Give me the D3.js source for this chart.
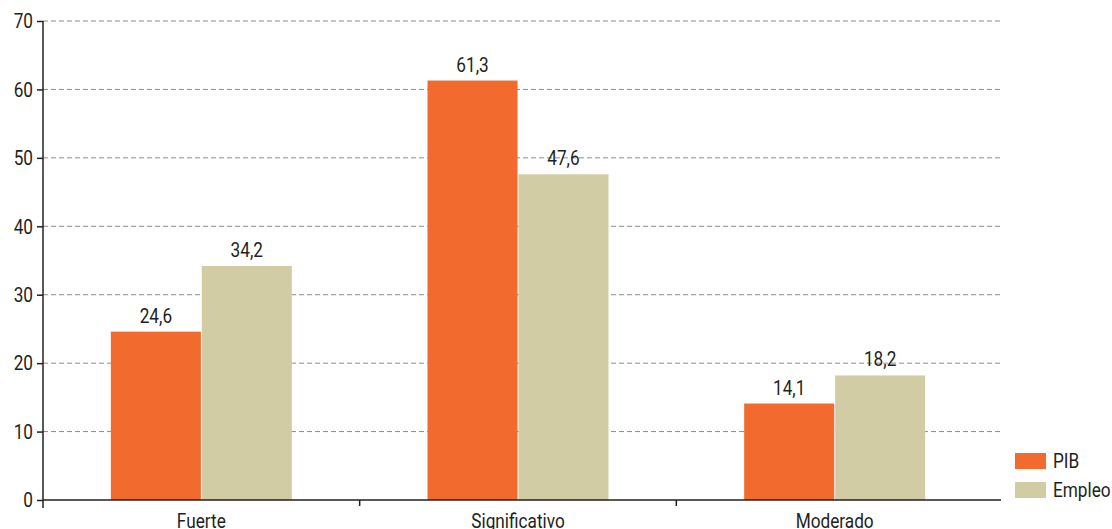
<!DOCTYPE html>
<html>
<head>
<meta charset="utf-8">
<script src="https://cdn.jsdelivr.net/npm/d3@7"></script>
<style>
  body { margin: 0; background: #fff; }
  text { font-family: "Roboto", "Liberation Sans", sans-serif; fill: #231f20; }
</style>
</head>
<body>
<div id="chart"></div>
<script>
// chart data
const categories = ["Fuerte", "Significativo", "Moderado"];
const seriesNames = ["PIB", "Empleo"];
const pib = [24.6, 61.3, 14.1];
const empleo = [34.2, 47.6, 18.2];
const yTicks = [0, 10, 20, 30, 40, 50, 60, 70];
const colors = ["#f26a2e", "#d1cca3"];

const width = 1112;
const height = 529;
const margin = {left: 43, right: 119, top: 21, bottom: 29};
const fontSize = "21px";

const svg = d3.select("#chart")
  .append("svg")
  .attr("width", width)
  .attr("height", height);

const yScale = d3.scaleLinear()
  .domain([0, 70])
  .range([height - margin.bottom, margin.top]);

const xScale = d3.scaleBand()
  .domain(categories)
  .range([margin.left, width - margin.right])
  .paddingInner(0)
  .paddingOuter(0);

const xInner = d3.scaleBand()
  .domain(seriesNames)
  .range([0, 181])
  .paddingInner(0.01);

// gridlines
svg.append("g")
  .selectAll("line")
  .data(yTicks.slice(1))
  .enter()
  .append("line")
    .attr("x1", margin.left)
    .attr("x2", width - margin.right + 8)
    .attr("y1", d => yScale(d))
    .attr("y2", d => yScale(d))
    .attr("stroke", "#8c8c8c")
    .attr("stroke-width", 1)
    .attr("stroke-dasharray", "5,3");

// bars
const rows = categories.map((c, i) => ({cat: c, vals: [pib[i], empleo[i]]}));
const groups = svg.selectAll(".grp")
  .data(rows)
  .enter()
  .append("g")
  .attr("transform", d => `translate(${xScale(d.cat) + xScale.bandwidth() / 2 - 90.5}, 0)`);

groups.selectAll("rect")
  .data(d => d.vals.map((v, j) => ({s: seriesNames[j], v: v, j: j})))
  .enter()
  .append("rect")
    .attr("x", d => xInner(d.s))
    .attr("y", d => yScale(d.v))
    .attr("width", xInner.bandwidth())
    .attr("height", d => yScale(0) - yScale(d.v))
    .attr("fill", d => colors[d.j]);

groups.selectAll(".lbl")
  .data(d => d.vals.map((v, j) => ({s: seriesNames[j], v: v})))
  .enter()
  .append("text")
    .attr("class", "cond")
    .attr("x", d => xInner(d.s) + xInner.bandwidth() / 2)
    .attr("y", d => yScale(d.v) - 9)
    .attr("text-anchor", "middle")
    .text(d => d.v.toFixed(1).replace(".", ","));

// y axis
const yAxis = svg.append("g")
  .attr("transform", `translate(${margin.left}, 0)`)
  .call(d3.axisLeft(yScale).tickValues(yTicks).tickSize(6).tickPadding(4));
yAxis.select(".domain").attr("d", `M0,${yScale(70)}V${yScale(0) + 8}`).attr("stroke", "#231f20").attr("stroke-width", 1.5);
yAxis.selectAll(".tick line").attr("stroke", "#231f20").attr("stroke-width", 1.5);
yAxis.selectAll(".tick text").attr("class", "cond").attr("font-family", null).attr("fill", null);

// x axis
const xAxis = svg.append("g")
  .attr("transform", `translate(0, ${yScale(0)})`);
xAxis.append("line")
  .attr("x1", margin.left)
  .attr("x2", width - margin.right + 8)
  .attr("stroke", "#231f20")
  .attr("stroke-width", 1.5);
xAxis.selectAll(".sep")
  .data(categories.slice(1))
  .enter()
  .append("line")
    .attr("x1", d => xScale(d))
    .attr("x2", d => xScale(d))
    .attr("y1", 0)
    .attr("y2", 6)
    .attr("stroke", "#231f20")
    .attr("stroke-width", 1.5);
xAxis.selectAll(".cat")
  .data(categories)
  .enter()
  .append("text")
    .attr("class", "cond")
    .attr("x", d => xScale(d) + xScale.bandwidth() / 2)
    .attr("y", 28)
    .attr("text-anchor", "middle")
    .text(d => d);

// legend
const legend = svg.append("g")
  .attr("transform", "translate(1015, 453)");
seriesNames.forEach((s, i) => {
  legend.append("rect")
    .attr("x", 0)
    .attr("y", i * 29)
    .attr("width", 31)
    .attr("height", 16)
    .attr("fill", colors[i]);
  legend.append("text")
    .attr("class", "cond")
    .attr("x", 38)
    .attr("y", i * 29 + 15)
    .text(s);
});

// squeeze text horizontally to get a condensed look
svg.selectAll("text.cond").each(function() {
  const t = d3.select(this);
  const x = +t.attr("x") || 0;
  const y = +t.attr("y") || 0;
  t.attr("x", 0).attr("y", 0)
   .attr("font-size", fontSize)
   .attr("transform", `translate(${x},${y}) scale(0.82,1)`);
});
</script>
</body>
</html>
